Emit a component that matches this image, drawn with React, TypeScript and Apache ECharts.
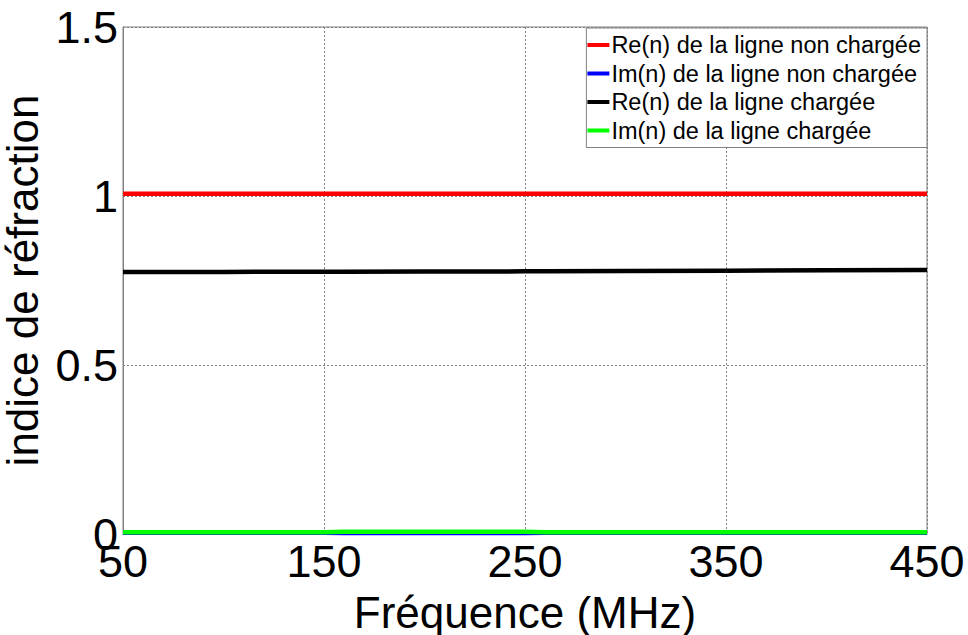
import React, { useEffect, useRef } from "react";
import * as echarts from "echarts";

const freqs = [50, 100, 150, 160, 200, 250, 260, 300, 350, 400, 450];
const reUnloaded = [1.007, 1.007, 1.007, 1.007, 1.007, 1.007, 1.007, 1.007, 1.007, 1.007, 1.007];
const imUnloaded = [0.004, 0.004, 0.004, 0.003, 0.003, 0.003, 0.004, 0.004, 0.004, 0.004, 0.004];
const reLoaded = [0.775, 0.7755, 0.776, 0.776, 0.7765, 0.777, 0.777, 0.778, 0.779, 0.780, 0.781];
const imLoaded = [0.005, 0.005, 0.005, 0.007, 0.007, 0.007, 0.005, 0.005, 0.005, 0.005, 0.005];
const xTicks = [50, 150, 250, 350, 450];
const seriesNames = [
  "Re(n) de la ligne non chargée",
  "Im(n) de la ligne non chargée",
  "Re(n) de la ligne chargée",
  "Im(n) de la ligne chargée",
];
const seriesColors = ["#ff0000", "#0000ff", "#000000", "#00ff00"];

const FONT = "'Liberation Sans', Arial, Helvetica, sans-serif";

export default function App() {
  const ref = useRef<HTMLDivElement>(null);
  useEffect(() => {
    if (!ref.current) return;
    const chart = echarts.init(ref.current, null, { renderer: "svg" });
    const values = [reUnloaded, imUnloaded, reLoaded, imLoaded];
    chart.setOption({
      animation: false,
      backgroundColor: "#ffffff",
      textStyle: { fontFamily: FONT },
      grid: {
        left: 123,
        right: 41,
        top: 27,
        bottom: 101,
        show: true,
        borderColor: "#808080",
        borderWidth: 1,
        containLabel: false,
        outerBoundsMode: "none",
      },
      legend: {
        orient: "vertical",
        right: 41,
        top: 28,
        padding: [5, 6, 5, 1],
        backgroundColor: "#ffffff",
        borderColor: "#808080",
        borderWidth: 1,
        borderRadius: 0,
        itemWidth: 22,
        itemHeight: 4,
        itemGap: 4.5,
        icon: "rect",
        textStyle: { fontFamily: FONT, fontSize: 23.5, color: "#000", padding: [0, 0, 0, -3] },
        data: seriesNames,
      },
      xAxis: {
        type: "value",
        min: 50,
        max: 450,
        name: "Fréquence (MHz)",
        nameLocation: "middle",
        nameGap: 56,
        nameTextStyle: { fontFamily: FONT, fontSize: 44, color: "#000" },
        axisLine: { show: true, lineStyle: { color: "#808080", width: 1 } },
        axisTick: { show: false, customValues: xTicks },
        axisLabel: {
          customValues: xTicks,
          fontFamily: FONT,
          fontSize: 45,
          color: "#000",
          margin: 5,
          formatter: (v: number) => String(v),
        },
        splitLine: {
          show: true,
          lineStyle: { color: "#808080", type: [2, 2], width: 1 },
        },
      },
      yAxis: {
        type: "value",
        min: 0,
        max: 1.5,
        interval: 0.5,
        name: "indice de réfraction",
        nameLocation: "middle",
        nameGap: 67,
        nameTextStyle: { fontFamily: FONT, fontSize: 44, color: "#000" },
        axisLine: { show: true, lineStyle: { color: "#808080", width: 1 } },
        axisTick: { show: false },
        axisLabel: {
          fontFamily: FONT,
          fontSize: 45,
          color: "#000",
          margin: 5,
          formatter: (v: number) => String(v),
        },
        splitLine: {
          show: true,
          lineStyle: { color: "#808080", type: [2, 2], width: 1 },
        },
      },
      series: seriesNames.map((name, i) => ({
        name,
        type: "line",
        data: freqs.map((f, j) => [f, values[i][j]]),
        showSymbol: false,
        symbol: "none",
        color: seriesColors[i],
        lineStyle: { color: seriesColors[i], width: 4.5 },
        z: 2 + i,
      })),
    });
    return () => chart.dispose();
  }, []);
  return (
    <div
      ref={ref}
      style={{ position: "absolute", left: 0, top: 0, width: 968, height: 635 }}
    />
  );
}
